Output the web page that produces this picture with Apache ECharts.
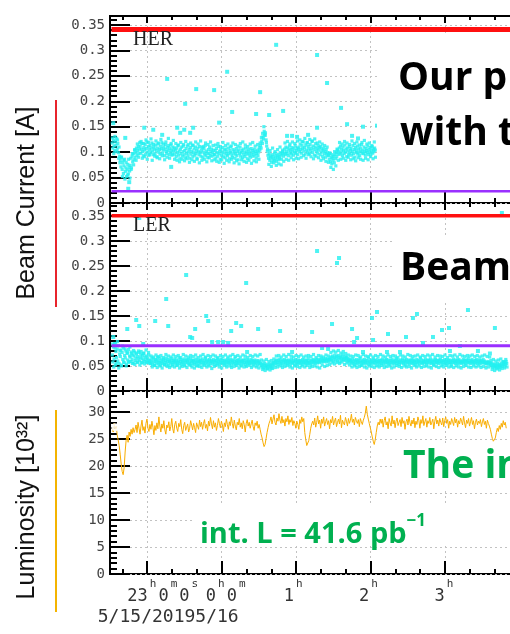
<!DOCTYPE html>
<html>
<head>
<meta charset="utf-8">
<script src="https://cdn.jsdelivr.net/npm/echarts@6/dist/echarts.min.js"></script>
<style>
  html, body { margin: 0; padding: 0; background: #fff; }
  #c { width: 510px; height: 634px; }
</style>
</head>
<body>
<div id="c"></div>
<script>
// Time is counted in hours from 5/15/2019 00:00 (24 = 5/16 0h).
const T_START = 22.53;
const BAND_STEP = 1 / 120;       // beam current samples every 30 s
const WIDE_START = 22.534;
const WIDE_STEP = 1 / 60;        // second beam current readout, every 60 s
const LUMI_STEP = 1 / 75;        // luminosity samples every 48 s
const X_MIN = 22.5, X_MAX = 28.25;

// HER beam current [mA]
const herBand = [
  118,108,124,112,103,121,114,127,106,117,99,110,92,
  84,71,90,66,79,58,73,86,62,69,52,65,76,57,70,63,
  74,88,69,92,81,97,85,104,90,99,108,94,103,111,97,106,
  112,98,106,117,101,93,109,104,115,96,107,120,100,111,94,105,113,99,108,118,
  102,95,110,106,97,114,103,91,108,116,100,105,96,112,107,119,98,104,110,93,
  106,115,101,97,109,103,113,95,107,100,117,104,96,110,102,108,
  96,104,91,108,99,113,94,102,87,106,97,110,92,101,115,95,103,89,107,98,
  112,93,100,105,88,109,96,102,114,91,99,106,94,110,97,103,86,108,101,95,
  111,99,92,104,109,90,100,107,96,113,93,102,98,89,105,97,110,94,101,106,
  92,99,104,95,
  95,103,88,107,99,92,111,97,102,86,105,94,100,109,91,98,104,89,106,96,
  101,93,108,97,87,103,99,112,94,90,105,98,102,88,96,107,93,101,85,104,
  97,110,92,99,103,89,106,95,100,91,108,96,102,87,98,105,94,100,90,107,
  96,103,92,99,106,94,101,88,97,104,93,100,109,
  104,113,108,122,117,130,126,141,134,138,124,112,
  102,94,88,97,84,92,89,80,95,86,91,83,98,87,93,82,90,96,85,92,88,99,94,86,97,101,92,
  98,106,95,110,101,97,108,93,104,112,99,105,96,109,102,94,107,100,113,97,103,108,95,106,
  110,101,116,105,98,113,107,120,102,109,96,114,104,118,100,111,106,97,115,103,
  108,121,99,112,105,94,110,117,102,107,98,113,104,109,95,111,100,106,92,103,
  108,97,101,90,105,96,99,93,
  94,86,98,81,90,77,88,84,92,79,95,87,99,91,104,96,
  101,108,96,112,99,105,93,110,103,97,114,100,106,91,108,102,95,111,98,104,
  107,94,101,113,97,105,90,109,103,99,112,96,106,100,93,108,102,115,98,104,
  97,110,101,94,107,103,99,112,95,105,100,109,96,103,111,98,106,101,108,104
];
const herWide = [
  128,97,131,101,124,88,79,
  90,52,84,47,80,55,86,49,
  66,97,75,105,84,116,90,119,
  121,88,117,91,124,86,119,95,126,84,115,92,122,89,118,87,125,93,116,85,120,90,127,88,114,94,123,86,
  117,84,114,81,119,86,112,83,121,87,115,80,118,85,113,82,120,88,116,79,122,84,111,86,118,81,115,89,120,83,113,85,
  114,82,117,80,111,85,119,78,113,84,116,81,110,86,118,79,115,83,112,77,117,85,120,82,114,80,111,84,116,78,119,83,112,81,115,86,
  118,129,137,150,133,119,
  106,76,103,72,108,79,101,74,105,77,110,75,104,82,
  118,86,121,84,116,89,120,85,117,88,122,87,
  124,90,121,93,127,88,119,95,125,91,122,87,126,92,118,89,120,84,116,87,113,82,110,80,
  98,70,95,66,101,73,106,84,
  119,86,116,88,121,84,118,90,115,85,122,87,117,83,120,89,114,86,119,84,123,88,116,85,118,91,113,87,120,90
];
const herOutT = [22.544,22.705,22.745,22.758,22.96,23.081,23.201,23.268,23.322,23.403,23.443,23.497,23.51,
  23.577,23.617,23.658,23.899,23.966,24.074,24.141,24.463,24.517,24.638,24.732,24.826,24.879,24.946,
  25.013,25.161,25.282,25.282,25.416,25.604,25.685,25.752,25.832,25.899,26.087];
const herOutV = [0.157,0.128,0.028,0.041,0.148,0.144,0.134,0.244,0.071,0.148,0.138,0.144,0.195,
  0.138,0.148,0.224,0.222,0.158,0.258,0.179,0.175,0.218,0.173,0.311,0.181,0.132,0.132,
  0.130,0.134,0.291,0.148,0.236,0.187,0.155,0.132,0.127,0.150,0.152];
const herRedLevel = 0.341, herPurpleLevel = 0.023;

// LER beam current [mA]
const lerBand = [
  72,58,88,64,95,52,79,67,84,60,91,55,74,69,82,50,77,63,86,57,71,66,80,54,75,62,83,59,70,
  68,59,75,63,72,56,70,78,61,66,74,58,69,64,77,60,67,73,57,65,71,62,76,59,68,63,70,57,66,61,72,58,
  62,55,60,66,53,58,64,51,59,63,56,61,67,54,60,57,65,52,58,62,
  55,60,64,53,57,61,66,54,59,63,51,58,62,56,60,65,53,57,61,59,
  64,54,58,62,57,52,60,66,55,59,63,53,58,61,56,64,52,60,57,62,
  58,63,54,60,56,65,52,59,61,55,62,57,53,60,64,56,58,51,61,59,
  55,62,57,60,64,53,58,56,61,66,54,59,62,57,52,60,63,55,58,61,
  59,54,63,57,60,52,61,58,65,55,59,62,53,60,56,64,57,61,54,58,
  62,56,60,53,59,64,57,61,55,58,63,52,60,57,62,55,59,66,54,60,
  57,61,55,63,58,52,60,56,62,59,54,61,57,64,53,58,60,55,62,57,
  60,54,58,63,56,61,53,59,57,62,55,60,58,52,61,56,59,54,
  56,50,54,48,53,46,51,55,47,52,49,45,53,50,47,54,49,52,46,55,51,57,53,58,
  60,55,62,57,53,61,58,64,54,59,56,62,52,60,57,63,55,59,61,54,
  58,62,56,60,53,59,64,57,55,61,58,52,60,63,56,59,54,62,57,60,
  55,61,58,53,63,57,60,56,62,54,59,61,57,65,55,58,60,53,62,56,
  59,63,57,61,55,60,58,64,56,62,59,57,63,60,66,58,61,64,59,62,
  60,65,58,62,64,61,59,63,66,
  63,68,61,70,65,59,67,72,62,66,69,60,71,64,67,58,70,65,62,68,73,63,66,61,69,64,67,60,65,62,58,63,
  61,56,59,64,55,58,62,53,60,57,63,54,59,61,56,65,58,52,60,57,
  62,55,59,63,57,60,54,61,58,66,53,59,56,62,60,55,58,64,57,61,
  54,60,58,63,56,59,52,61,57,62,55,60,64,58,53,59,61,56,63,57,
  60,55,62,58,53,61,57,64,59,54,60,56,62,58,65,55,59,61,57,53,
  58,62,56,60,64,57,55,61,59,53,63,58,60,56,62,54,59,61,57,64,
  55,59,62,57,60,53,58,63,56,61,59,54,60,66,57,62,55,58,61,56,
  59,63,57,54,61,58,62,56,60,64,55,59,57,62,53,60,58,63,56,61,
  57,60,55,62,59,64,56,58,61,53,60,57,63,55,59,62,58,54,61,57,
  62,56,59,53,61,58,64,57,60,55,62,59,56,61,54,63,58,60,57,55,
  60,58,63,56,61,54,59,62,57,60,65,56,58,61,55,59,63,57,60,54,
  58,61,56,63,59,55,60,57,62,54,59,61,56,58,63,57,60,55,58,56,
  54,57,59,55,57,53,
  55,50,56,48,53,51,47,54,49,52,46,55,50,48,53,47,51,56,49,52,58,54,50,57,53,59,55
];
const lerWide = [
  94,48,86,55,99,46,81,52,90,58,84,50,77,57,88,
  78,55,81,53,76,57,80,52,79,56,75,54,82,58,77,55,
  70,48,68,51,72,47,69,50,71,46,67,52,73,49,70,47,68,50,72,48,
  69,51,71,46,67,49,73,50,70,47,68,52,71,48,69,46,72,50,67,49,
  70,47,73,51,68,48,71,50,69,45,72,49,70,52,67,48,71,46,69,51,
  72,48,68,50,70,47,73,49,69,51,71,46,68,50,72,48,70,49,67,51,
  71,47,69,50,72,48,70,46,73,
  62,43,60,41,63,44,59,42,61,45,64,47,
  70,48,71,50,68,47,72,49,69,51,73,48,70,46,68,50,71,49,69,47,
  72,50,68,48,70,51,71,47,69,49,73,50,67,48,71,46,70,52,68,49,
  72,51,70,53,
  77,56,80,54,78,57,81,55,76,58,79,53,75,56,72,52,
  70,48,69,50,72,47,71,49,68,51,73,48,70,46,69,50,72,49,68,47,
  71,50,69,48,73,51,70,47,68,49,72,50,69,46,71,48,70,51,67,49,
  72,47,70,50,68,48,73,49,71,46,69,51,70,48,72,50,68,47,71,49,
  69,50,72,48,70,46,73,51,68,49,71,47,70,50,69,48,72,51,67,48,
  71,49,70,47,72,50,68,48,73,46,70,49,69,51,71,48,70,47,72,50,
  69,48,71,50,68,47,70,49,72,46,69,48,68,
  61,43,63,41,60,44,62,42,64,45,59,46,63,48
];
const lerOutT = [22.544,22.57,22.732,22.852,22.893,22.893,22.946,23.107,23.255,23.282,23.523,23.577,23.604,
  23.644,23.792,23.819,23.872,23.953,24.02,24.087,24.128,24.195,24.262,24.329,24.342,24.49,24.785,24.946,
  25.215,25.282,25.349,25.43,25.483,25.55,25.577,25.752,25.779,25.819,25.899,26.02,26.034,26.087,26.221,
  26.235,26.396,26.477,26.57,26.624,26.705,26.839,26.96,27.054,27.067,27.201,27.309,27.443,27.604,27.671,27.765];
const lerOutV = [0.108,0.094,0.124,0.142,0.130,0.346,0.094,0.140,0.184,0.130,0.232,0.108,0.106,
  0.124,0.150,0.140,0.098,0.098,0.098,0.096,0.120,0.136,0.130,0.216,0.078,0.124,0.120,0.078,
  0.118,0.280,0.086,0.084,0.134,0.256,0.266,0.124,0.098,0.106,0.078,0.146,0.102,0.158,0.078,
  0.114,0.078,0.108,0.146,0.154,0.096,0.108,0.122,0.126,0.080,0.090,0.162,0.080,0.075,0.126,0.356];
const lerRedLevel = 0.3506, lerPurpleLevel = 0.0906;
const refLineSpan = [22.52, 28.25];

// Luminosity [0.1 x 10^32]
const lumi = [
  270,263,279,266,274,258,255,
  238,222,204,190,184,197,226,
  248,257,244,263,255,268,259,271,262,
  268,276,262,281,270,259,274,285,266,273,261,279,287,270,264,277,268,283,272,258,
  275,266,280,269,291,274,263,278,270,284,267,259,276,271,282,265,273,288,269,261,
  277,283,270,264,279,273,286,268,260,275,281,266,272,278,263,270,284,276,267,279,
  271,262,280,274,268,285,
  273,281,268,279,286,270,277,265,283,274,290,278,269,284,272,280,266,275,288,279,
  271,283,276,264,280,273,287,277,268,282,275,291,279,270,285,274,267,281,276,288,
  272,280,269,284,277,263,279,286,274,281,270,278,285,273,266,280,275,283,270,277,
  268,259,252,243,236,240,251,262,271,279,
  284,291,278,287,295,281,276,289,283,297,285,279,292,280,286,274,288,282,293,277,
  286,281,290,275,284,279,270,283,277,268,
  286,279,291,282,288,
  262,249,238,236,247,258,270,278,
  283,276,289,272,281,293,278,285,270,287,279,291,274,282,288,277,284,269,286,280,
  292,276,283,289,273,281,287,278,294,271,285,280,276,290,283,274,288,279,285,296,
  281,287,276,290,284,279,286,273,288,282,277,285,
  290,298,311,296,287,279,271,263,254,246,240,249,262,274,281,276,287,
  279,287,272,284,291,276,282,269,288,280,274,293,278,285,271,283,289,275,281,286,
  273,290,279,284,268,282,287,276,292,280,274,285,278,289,271,283,277,291,284,270,
  286,279,293,275,282,288,272,284,279,290,276,281,287,269,283,292,278,285,274,288,
  281,276,289,273,284,291,279,286,270,283,277,288,282,275,290,280,287,272,284,278,
  289,283,276,292,280,271,285,279,288,274,282,290,277,284,269,281,287,276,283,279,
  286,273,282,288,277,283,270,285,279,274,
  268,259,251,246,243,252,262,270,264,275,
  268,279,272,284,276,281,270
];
const lumiFirstMarker = [22.57, 27.2];

// Axis ticks
const hourTicks = [23, 24, 25, 26, 27, 28];
const minorHourTicks = [22 + 2/3, 23 + 1/3, 23 + 2/3, 24 + 1/3, 24 + 2/3, 25 + 1/3, 25 + 2/3,
  26 + 1/3, 26 + 2/3, 27 + 1/3, 27 + 2/3];
const currentTicks = [0, 0.05, 0.1, 0.15, 0.2, 0.25, 0.3, 0.35];
const lumiTicks = [0, 5, 10, 15, 20, 25, 30];
const currentMinorTicks = [];
for (let k = 1; k <= 37; k++) if (k % 5) currentMinorTicks.push(k / 100);
const lumiMinorTicks = [];
for (let k = 1; k <= 33; k++) if (k % 5) lumiMinorTicks.push(k);

// Time labels (ROOT style, with superscript units); the date offset sits on its own line
const startLabel = '{g33|}{t|23}{s|h}{t|0}{s|m}{t|0}{s|s}';
const midnightLabel = '{g10|}{t|0}{s|h}{t|0}{s|m}';
const hourLabels = { 25: '{t|1}{s|h}{g4|}', 26: '{t|2}{s|h}{g2|}', 27: '{t|3}{s|h}' };
const dateLabel = '{g42|}{d|5/15/20195/16}';

const MONO = '"DejaVu Sans Mono", monospace';
const CYAN = '#22f0f0';
const ORANGE = '#f9ad00';
const RED = '#ff1010';
const PURPLE = '#9a30ff';
const tickStyle = { color: '#000', width: 2 };
const dotted = { show: true, showMinLine: true, showMaxLine: true, lineStyle: { color: '#c2c2c2', type: [2, 3], width: 1 } };
const labelRich = {
  t: { fontFamily: MONO, fontSize: 17, lineHeight: 31, verticalAlign: 'bottom', align: 'center', color: '#333' },
  s: { fontFamily: MONO, fontSize: 11, lineHeight: 14, verticalAlign: 'top', align: 'center', padding: [5, 2, 0, 2], color: '#333' },
  d: { fontFamily: MONO, fontSize: 18, lineHeight: 24, align: 'center', color: '#333' },
  g42: { width: 42, align: 'center' }, g33: { width: 33, align: 'center' }, g10: { width: 10, align: 'center' },
  g4: { width: 4, align: 'center' }, g2: { width: 2, align: 'center' }
};

const grids = [
  { left: 110, top: 16, width: 428, height: 187 },
  { left: 110, top: 203, width: 428, height: 188 },
  { left: 110, top: 391, width: 428, height: 183 }
].map(g => Object.assign(g, { show: true, borderColor: '#000', borderWidth: 2, backgroundColor: 'transparent', outerBoundsMode: 'none' }));

function xBase(g) {
  return { gridIndex: g, type: 'value', min: X_MIN, max: X_MAX, axisLine: { show: false } };
}
function xAxesFor(g) {
  return [
    Object.assign(xBase(g), { position: 'bottom', axisTick: { inside: true, length: 13, customValues: hourTicks, lineStyle: tickStyle }, axisLabel: { show: false }, splitLine: dotted }),
    Object.assign(xBase(g), { position: 'bottom', axisTick: { inside: true, length: 5, customValues: minorHourTicks, lineStyle: tickStyle }, axisLabel: { show: false }, splitLine: { show: false } }),
    Object.assign(xBase(g), { position: 'top', axisTick: { inside: true, length: 7, customValues: hourTicks, lineStyle: tickStyle }, axisLabel: { show: false }, splitLine: { show: false } }),
    Object.assign(xBase(g), { position: 'top', axisTick: { inside: true, length: 4, customValues: minorHourTicks, lineStyle: tickStyle }, axisLabel: { show: false }, splitLine: { show: false } })
  ];
}
// label-only axes, one per group so neighbouring labels never suppress each other
function xLabelAxis(g, values, formatter, margin) {
  return Object.assign(xBase(g), {
    position: 'bottom', axisTick: { show: false }, splitLine: { show: false },
    axisLabel: { customValues: values, margin: margin, formatter: formatter, rich: labelRich, showMinLabel: true, showMaxLabel: true }
  });
}

function yAxesFor(g, max, major, minor) {
  const base = { gridIndex: g, type: 'value', min: 0, max: max, position: 'left', axisLine: { show: false } };
  return [
    Object.assign({}, base, {
      axisTick: { inside: true, length: 20, customValues: major, lineStyle: tickStyle },
      axisLabel: { customValues: major, margin: 5, fontFamily: MONO, fontSize: 14, color: '#444', formatter: v => String(v) },
      splitLine: dotted
    }),
    Object.assign({}, base, {
      axisTick: { inside: true, length: 7, customValues: minor, lineStyle: tickStyle },
      axisLabel: { show: false }, splitLine: { show: false }
    })
  ];
}

function levelLine(xi, yi, level, color, width) {
  return {
    type: 'line', xAxisIndex: xi, yAxisIndex: yi, symbol: 'none', silent: true, z: 3,
    data: refLineSpan.map(t => [t, level]),
    lineStyle: { color: color, width: width }
  };
}
function dots(xi, yi, data, size) {
  return {
    type: 'scatter', xAxisIndex: xi, yAxisIndex: yi, symbol: 'rect', symbolSize: size,
    itemStyle: { color: CYAN }, silent: true, z: 2, data: data
  };
}
const sampled = (arr, t0, step) => arr.map((v, i) => [t0 + i * step, v / 1000]);

const slideFont = '"Open Sans", "Noto Sans", sans-serif';

const option = {
  animation: false,
  backgroundColor: '#fff',
  grid: grids,
  xAxis: [].concat(
    xAxesFor(0), xAxesFor(1), xAxesFor(2),
    [
      xLabelAxis(2, [23], () => startLabel, 0),
      xLabelAxis(2, [24], () => midnightLabel, 0),
      xLabelAxis(2, [25, 26, 27], v => hourLabels[Math.round(v)] || '', 0),
      xLabelAxis(2, [23], () => dateLabel, 31)
    ]
  ),
  yAxis: [].concat(
    yAxesFor(0, 0.3677, currentTicks, currentMinorTicks),
    yAxesFor(1, 0.376, currentTicks, currentMinorTicks),
    yAxesFor(2, 33.9, lumiTicks, lumiMinorTicks)
  ),
  series: [
    dots(0, 0, sampled(herBand, T_START, BAND_STEP), 3.2),
    dots(0, 0, sampled(herWide, WIDE_START, WIDE_STEP), 3.2),
    dots(0, 0, herOutT.map((t, i) => [t, herOutV[i]]), 4),
    levelLine(0, 0, herRedLevel, RED, 5),
    levelLine(0, 0, herPurpleLevel, PURPLE, 2.5),
    dots(4, 2, sampled(lerBand, T_START, BAND_STEP), 3.2),
    dots(4, 2, sampled(lerWide, WIDE_START, WIDE_STEP), 3.2),
    dots(4, 2, lerOutT.map((t, i) => [t, lerOutV[i]]), 4),
    levelLine(4, 2, lerRedLevel, RED, 3.5),
    levelLine(4, 2, lerPurpleLevel, PURPLE, 3),
    {
      type: 'line', xAxisIndex: 8, yAxisIndex: 4, symbol: 'none', silent: true, z: 2,
      data: lumi.map((v, i) => [T_START + i * LUMI_STEP, v / 10]), lineStyle: { color: ORANGE, width: 1 }
    },
    {
      type: 'scatter', xAxisIndex: 8, yAxisIndex: 4, symbol: 'emptyCircle', symbolSize: 6, silent: true, z: 3,
      itemStyle: { color: '#fff', borderColor: ORANGE, borderWidth: 1.5 }, data: [lumiFirstMarker]
    }
  ],
  graphic: [
    { type: 'text', x: 133, y: 40, z: 20, style: { text: 'HER', font: '20px "Liberation Serif", serif', fill: '#222', textVerticalAlign: 'middle', verticalAlign: 'middle' } },
    { type: 'text', x: 133, y: 226, z: 20, style: { text: 'LER', font: '20px "Liberation Serif", serif', fill: '#222', textVerticalAlign: 'middle', verticalAlign: 'middle' } },

    { type: 'text', x: 27, y: 203, rotation: Math.PI / 2, z: 20,
      style: { text: 'Beam Current [A]', font: '25px "Liberation Sans", Arial, sans-serif', fill: '#111',
        textAlign: 'center', align: 'center', textVerticalAlign: 'middle', verticalAlign: 'middle' } },
    { type: 'text', x: 27, y: 507, rotation: Math.PI / 2, z: 20,
      style: { text: 'Luminosity [10³²]', font: '25px "Liberation Sans", Arial, sans-serif', fill: '#111',
        textAlign: 'center', align: 'center', textVerticalAlign: 'middle', verticalAlign: 'middle' } },
    { type: 'line', z: 20, shape: { x1: 56, y1: 100, x2: 56, y2: 307 }, style: { stroke: '#e8242c', lineWidth: 2 } },
    { type: 'line', z: 20, shape: { x1: 56, y1: 410, x2: 56, y2: 612 }, style: { stroke: '#f4b400', lineWidth: 2 } },

    { type: 'rect', z: 50, shape: { x: 377, y: 34, width: 150, height: 154 }, style: { fill: '#fff' } },
    { type: 'text', x: 398, y: 79, z: 51, style: { text: 'Our p', font: 'bold 39px ' + slideFont, fill: '#000', textVerticalAlign: 'middle', verticalAlign: 'middle' } },
    { type: 'text', x: 400, y: 134, z: 51, style: { text: 'with t', font: 'bold 39px ' + slideFont, fill: '#000', textVerticalAlign: 'middle', verticalAlign: 'middle' } },

    { type: 'rect', z: 50, shape: { x: 393, y: 236, width: 140, height: 66 }, style: { fill: '#fff' } },
    { type: 'text', x: 400, y: 269, z: 51, style: { text: 'Beam', font: 'bold 39px ' + slideFont, fill: '#000', textVerticalAlign: 'middle', verticalAlign: 'middle' } },

    { type: 'rect', z: 50, shape: { x: 394, y: 446, width: 140, height: 42 }, style: { fill: '#fff' } },
    { type: 'text', x: 403, y: 467, z: 51, style: { text: 'The in', font: 'bold 39px ' + slideFont, fill: '#00b050', textVerticalAlign: 'middle', verticalAlign: 'middle' } },

    { type: 'rect', z: 50, shape: { x: 193, y: 506, width: 330, height: 37 }, style: { fill: '#fff' } },
    { type: 'text', x: 200, y: 531, z: 51, style: {
        text: '{m|int. L = 41.6 pb}{u|−1}', fill: '#00b050', textVerticalAlign: 'middle', verticalAlign: 'middle',
        rich: {
          m: { fontFamily: slideFont, fontWeight: 'bold', fontSize: 29, lineHeight: 36, fill: '#00b050', color: '#00b050', verticalAlign: 'bottom' },
          u: { fontFamily: slideFont, fontWeight: 'bold', fontSize: 17, lineHeight: 36, fill: '#00b050', color: '#00b050', verticalAlign: 'top' }
        } } }
  ]
};

const chart = echarts.init(document.getElementById('c'), null, { renderer: 'canvas' });
chart.setOption(option);
</script>
</body>
</html>
